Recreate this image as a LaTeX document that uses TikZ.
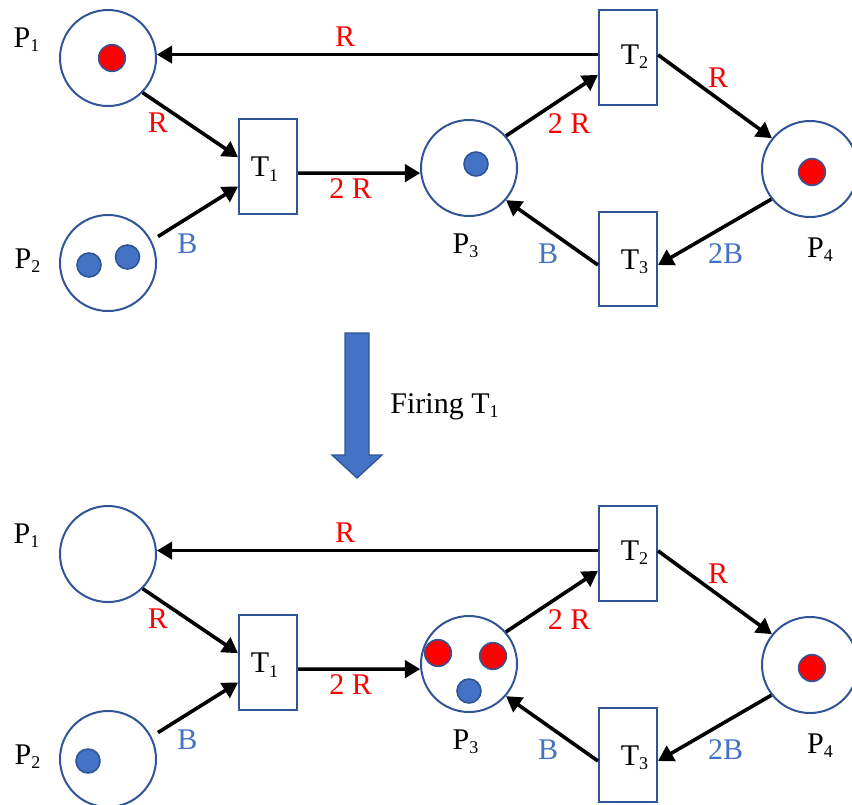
\documentclass[tikz,border=0pt]{standalone}
\usepackage{fontspec}
\setmainfont{Liberation Serif}
\usetikzlibrary{arrows.meta}
\definecolor{pblue}{HTML}{2F5597}
\definecolor{tblue}{HTML}{4472C4}
\definecolor{tred}{HTML}{FF0000}
\newcommand\mysub[1]{\raisebox{-3.6pt}{\fontsize{13.5}{14}\selectfont #1}}
\tikzset{
  place/.style={circle, draw=pblue, line width=1.5pt, minimum size=72pt, inner sep=0pt},
  trans/.style={rectangle, draw=pblue, line width=1.5pt, minimum width=43.5pt, minimum height=71pt, inner sep=0pt},
  arc/.style={line width=2.7pt, -{Triangle[length=11.5pt,width=13pt]}},
  lbl/.style={font=\fontsize{22.5}{24}\selectfont, inner sep=0pt, anchor=base},
  rl/.style={lbl, text=tred},
  bl/.style={lbl, text=tblue},
  redtok/.style={circle, fill=tred, draw=pblue, line width=1.2pt, minimum size=20pt, inner sep=0pt},
  bluetok/.style={circle, fill=tblue, draw=pblue, line width=1.2pt, minimum size=18pt, inner sep=0pt},
  bigarrow/.style={fill=tblue, draw=pblue, line width=1pt, line join=miter}
}
\newcommand\drawnet[2]{%
\begin{scope}[shift={(0,#2)}]
  \node[place] (#1P1) at (108,58) {};
  \node[place] (#1P2) at (108,263) {};
  \node[place] (#1P3) at (469,168) {};
  \node[place] (#1P4) at (810,169) {};
  \node[trans] (#1T1) at (268,166.5) {};
  \node[trans] (#1T2) at (628,57.5) {};
  \node[trans] (#1T3) at (628,259) {};
  \draw[arc] (#1P1.-45) -- ([yshift=7pt]#1T1.west);
  \draw[arc] ([xshift=5pt,yshift=2.6pt]#1P2.28) -- ([yshift=-15pt]#1T1.west);
  \draw[arc] ([yshift=-5pt]#1T1.east) -- (#1P3.186);
  \draw[arc] (#1P3.41) -- ([yshift=-13pt]#1T2.west);
  \draw[arc] (#1T2.west |- #1P1.4) -- (#1P1.4);
  \draw[arc] ([yshift=2pt]#1T2.east) -- (#1P4.141);
  \draw[arc] (#1P4.218) -- ([yshift=-4.5pt]#1T3.east);
  \draw[arc] ([yshift=-4.5pt]#1T3.west) -- (#1P3.-41);
  \node[lbl] (#1lP1) at (26.5,47) {P\mysub{1}};
  \node[lbl] (#1lP2) at (27.5,268) {P\mysub{2}};
  \node[lbl] (#1lP3) at (465.5,253) {P\mysub{3}};
  \node[lbl] (#1lP4) at (820,257) {P\mysub{4}};
  \node[lbl] (#1lT1) at (264.5,176.5) {T\mysub{1}};
  \node[lbl] (#1lT2) at (634.5,64) {T\mysub{2}};
  \node[lbl] (#1lT3) at (634.5,269) {T\mysub{3}};
  \node[rl] (#1aR1) at (345,46) {R};
  \node[rl] (#1aR2) at (158,132.5) {R};
  \node[bl] (#1aB1) at (187.5,253) {B};
  \node[rl] (#1aR3) at (350.5,198) {2 R};
  \node[rl] (#1aR4) at (569,133) {2 R};
  \node[rl] (#1aR5) at (718,87) {R};
  \node[bl] (#1aB2) at (725.5,263) {2B};
  \node[bl] (#1aB3) at (548,263) {B};
\end{scope}}
\begin{document}
\begin{tikzpicture}[x=0.75pt, y=-0.75pt]
  \useasboundingbox (0,0) rectangle (852,804);
  \drawnet{a}{0}
  \drawnet{b}{496}
  % tokens, top net
  \node[redtok] (ka1) at (112,58) {};
  \node[bluetok] (ka2) at (89,265) {};
  \node[bluetok] (ka3) at (127.5,257) {};
  \node[bluetok] (ka4) at (476,164) {};
  \node[redtok] (ka5) at (812,172) {};
  % tokens, bottom net
  \node[bluetok] (kb1) at (88,761) {};
  \node[redtok] (kb2) at (438,653) {};
  \node[redtok] (kb3) at (493,656) {};
  \node[bluetok] (kb4) at (469,691) {};
  \node[redtok] (kb5) at (812,668) {};
  % firing arrow
  \draw[bigarrow] (345,333) -- (369,333) -- (369,455) -- (382,455) -- (357,478) -- (332,455) -- (345,455) -- cycle;
  \node[lbl] (fire) at (444.5,413) {Firing T\mysub{1}};
\end{tikzpicture}
\end{document}
